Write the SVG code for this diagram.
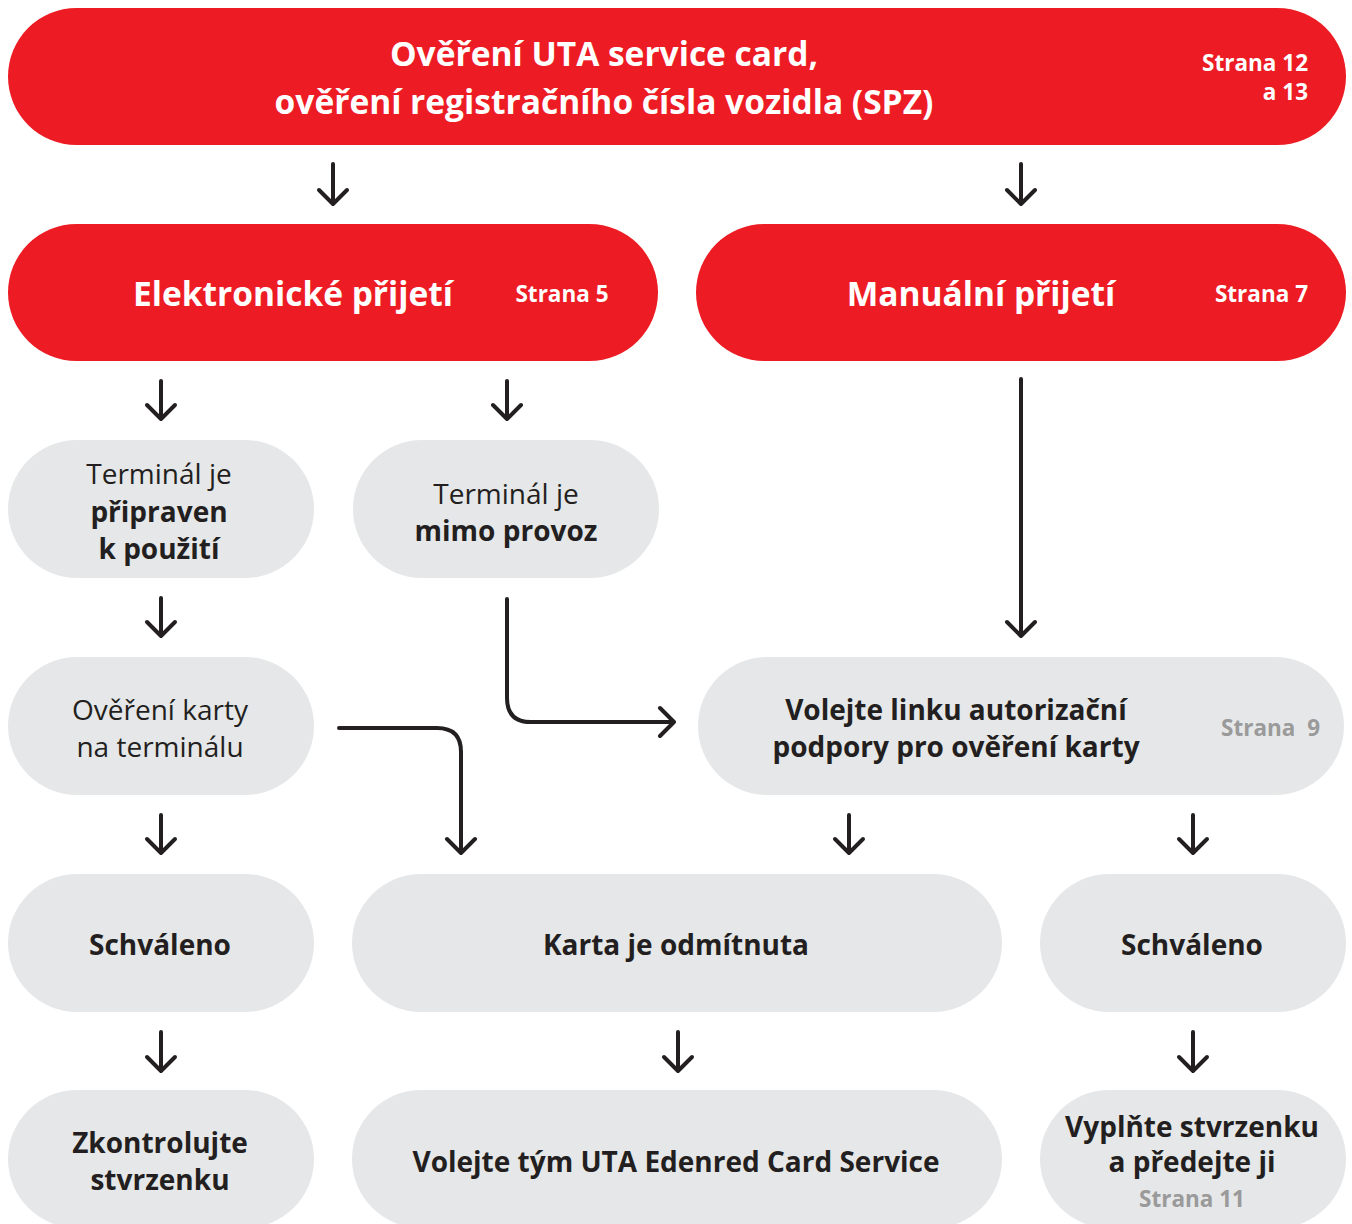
<svg xmlns="http://www.w3.org/2000/svg" width="1352" height="1224" viewBox="0 0 1352 1224">
<style>
.red{fill:#ED1C24}
.gray{fill:#E6E7E8}
text{font-family:"Open Sans","Noto Sans","DejaVu Sans",sans-serif;text-anchor:middle}
.wt{fill:#FFFFFF;font-weight:700}
.h1{font-size:33.5px}
.h2{font-size:33.5px}
.pg{font-size:22.5px}
.dk{fill:#231F20;font-size:28px}
.b{font-weight:700}
.n{font-weight:400}
.gp{fill:#9A9A9A;font-weight:700;font-size:22.5px}
.c{fill:none;stroke:#231F20;stroke-width:4;stroke-linecap:round;stroke-linejoin:round}
</style>
<rect width="1352" height="1224" fill="#FFFFFF"/>
<g id="n-top">
<rect class="red" x="8" y="8" width="1338" height="137" rx="68.5"/>
<text class="wt h1" x="604" y="66">Ověření UTA service card,</text>
<text class="wt h1" x="604" y="114">ověření registračního čísla vozidla (SPZ)</text>
<text class="wt pg" x="1308" y="71" style="text-anchor:end">Strana 12</text>
<text class="wt pg" x="1308" y="100" style="text-anchor:end">a 13</text>
</g>
<g id="n-elektronicke">
<rect class="red" x="8" y="224" width="650" height="137" rx="68.5"/>
<text class="wt h2" x="293" y="306">Elektronické přijetí</text>
<text class="wt pg" x="562" y="302">Strana 5</text>
</g>
<g id="n-manualni">
<rect class="red" x="696" y="224" width="650" height="137" rx="68.5"/>
<text class="wt h2" x="981" y="306">Manuální přijetí</text>
<text class="wt pg" x="1308" y="302" style="text-anchor:end">Strana 7</text>
</g>
<g id="n-pripraven">
<rect class="gray" x="8" y="440" width="306" height="138" rx="69"/>
<text class="dk n" x="159" y="484">Terminál je</text>
<text class="dk b" x="159" y="522">připraven</text>
<text class="dk b" x="159" y="559">k použití</text>
</g>
<g id="n-mimo">
<rect class="gray" x="353" y="440" width="306" height="138" rx="69"/>
<text class="dk n" x="506" y="504">Terminál je</text>
<text class="dk b" x="506" y="541">mimo provoz</text>
</g>
<g id="n-overeni">
<rect class="gray" x="8" y="657" width="306" height="138" rx="69"/>
<text class="dk n" x="160" y="720">Ověření karty</text>
<text class="dk n" x="160" y="757">na terminálu</text>
</g>
<g id="n-volejte-linku">
<rect class="gray" x="698" y="657" width="646" height="138" rx="69"/>
<text class="dk b" x="956" y="720">Volejte linku autorizační</text>
<text class="dk b" x="956" y="757">podpory pro ověření karty</text>
<text class="gp" x="1320" y="736" style="text-anchor:end" xml:space="preserve">Strana  9</text>
</g>
<g id="n-schvaleno1">
<rect class="gray" x="8" y="874" width="306" height="138" rx="69"/>
<text class="dk b" x="160" y="955">Schváleno</text>
</g>
<g id="n-odmitnuta">
<rect class="gray" x="352" y="874" width="650" height="138" rx="69"/>
<text class="dk b" x="676" y="955">Karta je odmítnuta</text>
</g>
<g id="n-schvaleno2">
<rect class="gray" x="1040" y="874" width="306" height="138" rx="69"/>
<text class="dk b" x="1192" y="955">Schváleno</text>
</g>
<g id="n-zkontrolujte">
<rect class="gray" x="8" y="1090" width="306" height="138" rx="69"/>
<text class="dk b" x="160" y="1153">Zkontrolujte</text>
<text class="dk b" x="160" y="1190">stvrzenku</text>
</g>
<g id="n-volejte-tym">
<rect class="gray" x="352" y="1090" width="650" height="138" rx="69"/>
<text class="dk b" x="676" y="1172">Volejte tým UTA Edenred Card Service</text>
</g>
<g id="n-vyplnte">
<rect class="gray" x="1040" y="1090" width="306" height="138" rx="69"/>
<text class="dk b" x="1192" y="1137">Vyplňte stvrzenku</text>
<text class="dk b" x="1192" y="1172">a předejte ji</text>
<text class="gp" x="1192" y="1207">Strana 11</text>
</g>
<g id="connectors">
<path class="c" d="M333 164V204M319 190L333 204L347 190"/>
<path class="c" d="M1021 164V204M1007 190L1021 204L1035 190"/>
<path class="c" d="M161 381V419M147 405L161 419L175 405"/>
<path class="c" d="M507 381V419M493 405L507 419L521 405"/>
<path class="c" d="M1021 379V636M1007 622L1021 636L1035 622"/>
<path class="c" d="M161 598V636M147 622L161 636L175 622"/>
<path class="c" d="M507 599V698Q507 722 531 722H674M660 708L674 722L660 736"/>
<path class="c" d="M339 728H437Q461 728 461 752V853M447 839L461 853L475 839"/>
<path class="c" d="M161 815V853M147 839L161 853L175 839"/>
<path class="c" d="M849 815V853M835 839L849 853L863 839"/>
<path class="c" d="M1193 815V853M1179 839L1193 853L1207 839"/>
<path class="c" d="M161 1032V1071M147 1057L161 1071L175 1057"/>
<path class="c" d="M678 1032V1071M664 1057L678 1071L692 1057"/>
<path class="c" d="M1193 1032V1071M1179 1057L1193 1071L1207 1057"/>
</g>
</svg>
